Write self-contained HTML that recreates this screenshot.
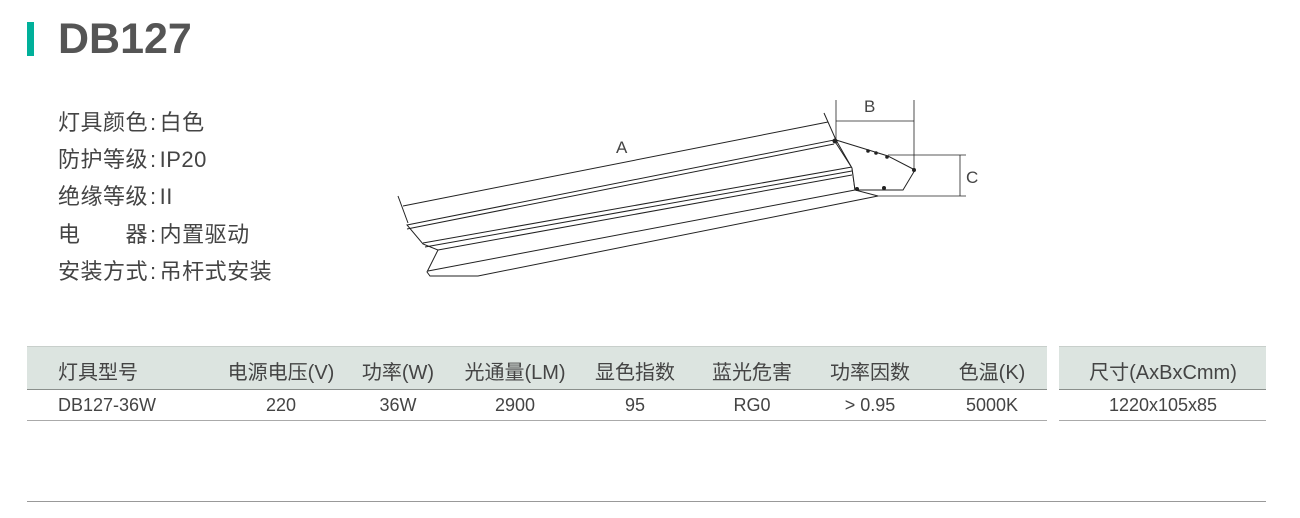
<!DOCTYPE html>
<html><head><meta charset="utf-8"><style>
body{margin:0;width:1300px;height:518px;background:#fff;position:relative;overflow:hidden;font-family:"Liberation Sans","Noto Sans CJK SC",sans-serif;color:#444}
.a{position:absolute;white-space:nowrap}
.spec{left:58px;font-size:22px;line-height:24px;letter-spacing:0.5px}
.spec span{padding:0 3px 0 2px}
.h{top:346px;height:42px;background:#dce4e0;border-top:1px solid #c8cfcb;border-bottom:1px solid #8a8f8c}
.c{position:absolute;font-size:20px;transform:translateX(-50%);white-space:nowrap}
.hd{top:356px}.dt{top:395px;font-size:18px}
.bl{position:absolute;height:1px;background:#aaa}
</style></head><body>
<div class="a" style="left:27px;top:22px;width:7px;height:34px;background:#00b09a"></div>
<div class="a" style="left:58px;top:14px;font-size:43px;font-weight:bold;color:#555;line-height:50px">DB127</div>
<div class="a spec" style="top:111px">灯具颜色<span>:</span>白色</div>
<div class="a spec" style="top:148px">防护等级<span>:</span>IP20</div>
<div class="a spec" style="top:185px">绝缘等级<span>:</span>II</div>
<div class="a spec" style="top:223px">电　　器<span>:</span>内置驱动</div>
<div class="a spec" style="top:260px">安装方式<span>:</span>吊杆式安装</div>

<svg class="a" style="left:0;top:0" width="1300" height="518" stroke="#222" fill="none" stroke-width="1">
<line x1="403" y1="206" x2="828" y2="122"/>
<line x1="398" y1="196" x2="408" y2="223"/>
<line x1="824" y1="113" x2="836" y2="140"/>
<polygon points="407,225 834,140 852,168 855,190 878,196 478,276 430,276 427,272 438,250 423,244" fill="#fff"/>
<line x1="407" y1="229" x2="834" y2="144"/>
<line x1="423" y1="243" x2="852" y2="167"/>
<line x1="425" y1="247" x2="852" y2="171"/>
<line x1="438" y1="250" x2="852" y2="175"/>
<line x1="428" y1="271" x2="855" y2="190"/>
<polygon points="836,140 888,156 915,170 903,190 855,190 852,168" fill="#fff"/>
<g fill="#222" stroke="none">
<circle cx="835" cy="141" r="2.5"/><circle cx="868" cy="151" r="1.8"/><circle cx="876" cy="153" r="1.8"/><circle cx="887" cy="157" r="1.8"/><circle cx="914" cy="170" r="2"/><circle cx="857" cy="189" r="2"/><circle cx="884" cy="188" r="2"/>
</g>
<g stroke-width="0.8">
<line x1="836" y1="100" x2="836" y2="140"/><line x1="914" y1="100" x2="914" y2="170"/>
<line x1="836" y1="121" x2="914" y2="121"/>
<line x1="888" y1="155" x2="966" y2="155"/><line x1="878" y1="196" x2="966" y2="196"/>
<line x1="960" y1="155" x2="960" y2="196"/>
</g>
<text x="616" y="153" font-size="17" fill="#444" stroke="none" font-family="Liberation Sans">A</text>
<text x="864" y="112" font-size="17" fill="#444" stroke="none" font-family="Liberation Sans">B</text>
<text x="966" y="183" font-size="17" fill="#444" stroke="none" font-family="Liberation Sans">C</text>
</svg>

<div class="a h" style="left:27px;width:1020px"></div>
<div class="a h" style="left:1059px;width:207px"></div>
<div class="bl" style="left:27px;width:1020px;top:420px"></div>
<div class="bl" style="left:1059px;width:207px;top:420px"></div>
<div class="bl" style="left:27px;width:1239px;top:501px;background:#999"></div>

<div class="a" style="left:58px;top:356px;font-size:20px">灯具型号</div>
<div class="c hd" style="left:281px">电源电压(V)</div>
<div class="c hd" style="left:398px">功率(W)</div>
<div class="c hd" style="left:515px">光通量(LM)</div>
<div class="c hd" style="left:635px">显色指数</div>
<div class="c hd" style="left:752px">蓝光危害</div>
<div class="c hd" style="left:870px">功率因数</div>
<div class="c hd" style="left:992px">色温(K)</div>
<div class="c hd" style="left:1163px">尺寸(AxBxCmm)</div>

<div class="a" style="left:58px;top:395px;font-size:18px">DB127-36W</div>
<div class="c dt" style="left:281px">220</div>
<div class="c dt" style="left:398px">36W</div>
<div class="c dt" style="left:515px">2900</div>
<div class="c dt" style="left:635px">95</div>
<div class="c dt" style="left:752px">RG0</div>
<div class="c dt" style="left:870px">&gt; 0.95</div>
<div class="c dt" style="left:992px">5000K</div>
<div class="c dt" style="left:1163px">1220x105x85</div>
</body></html>
